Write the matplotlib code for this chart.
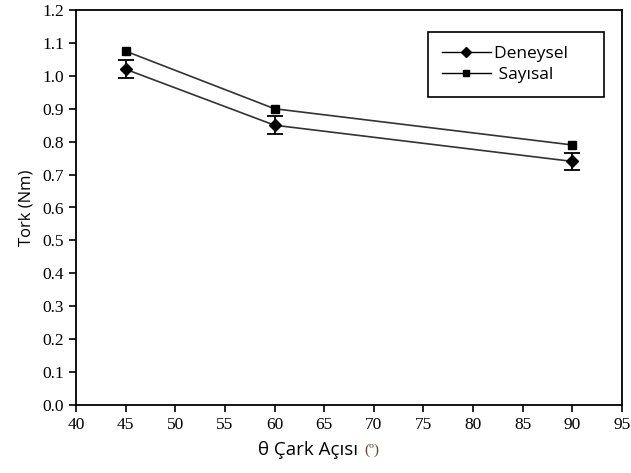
import matplotlib.pyplot as plt
from matplotlib.lines import Line2D

# data
aci = [45, 60, 90]
deneysel = [1.02, 0.85, 0.74]
deneysel_hata = [0.027, 0.027, 0.025]
sayisal = [1.075, 0.90, 0.79]

xticks = list(range(40, 100, 5))
yticks = [i / 10 for i in range(0, 13)]

fig = plt.figure(figsize=(6.31, 4.73), dpi=100)
ax = fig.add_axes([76 / 631, 68 / 473, 546 / 631, 395 / 473])

ax.errorbar(aci, deneysel, yerr=deneysel_hata, color="#333333", lw=1.2,
            marker="D", ms=6, mfc="black", mec="black",
            ecolor="black", elinewidth=1.3, capsize=6, capthick=1.3)
ax.plot(aci, sayisal, color="#333333", lw=1.2, marker="s", ms=6,
        mfc="black", mec="black")

ax.set_xlim(40, 95)
ax.set_ylim(0, 1.2)
ax.set_xticks(xticks)
ax.set_yticks(yticks)
ax.set_yticklabels([f"{v:.1f}" for v in yticks])
ax.tick_params(direction="out", length=5, width=1.2, labelsize=12.5)
for lab in ax.get_xticklabels() + ax.get_yticklabels():
    lab.set_family("Liberation Serif")
for s in ax.spines.values():
    s.set_linewidth(1.3)

ax.set_ylabel("Tork (Nm)", family="Open Sans", fontsize=12, labelpad=6)
fig.text(0.575, 1 - 450 / 473, "θ Çark Açısı ", family="Open Sans", fontsize=13.5,
         ha="right", va="center")
fig.text(0.577, 1 - 450 / 473, "(º)", family="Liberation Serif", fontsize=11,
         ha="left", va="center", color="#6b4a2a")

handles = [
    Line2D([], [], color="black", lw=1, marker="D", ms=5),
    Line2D([], [], color="black", lw=1, marker="s", ms=5),
]
leg = ax.legend(handles, ["Deneysel     ", " Sayısal"], loc="upper left",
                bbox_to_anchor=(352 / 546, 1 - 22 / 395), fancybox=False,
                framealpha=1, edgecolor="black", borderaxespad=0,
                prop={"family": "Open Sans", "size": 12.5}, handlelength=2.8,
                handletextpad=0.2, borderpad=0.8, labelspacing=0.3)
leg.get_frame().set_linewidth(1.2)

fig.savefig("out.png", dpi=100)
